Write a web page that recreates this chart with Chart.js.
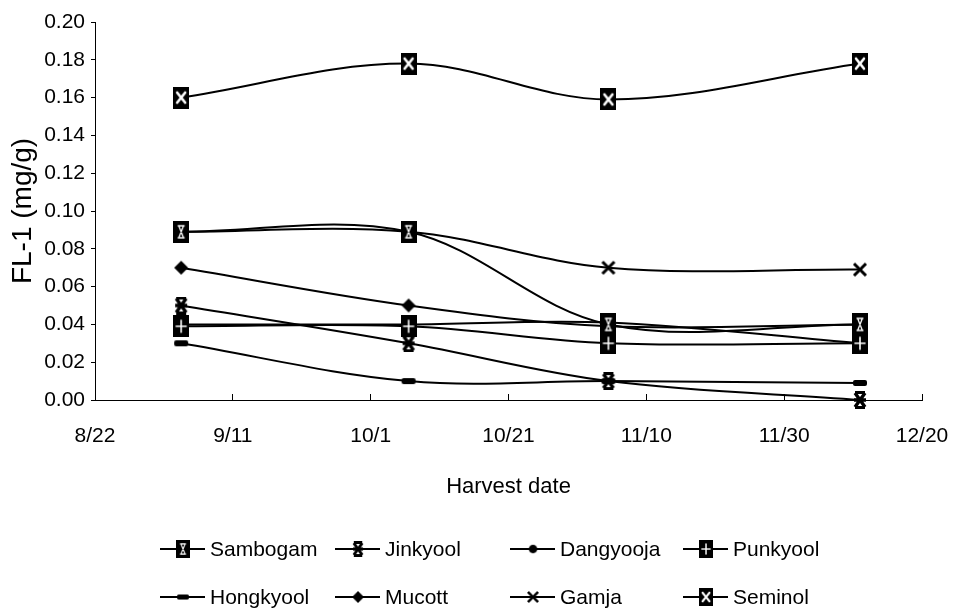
<!DOCTYPE html>
<html>
<head>
<meta charset="utf-8">
<script src="https://cdn.jsdelivr.net/npm/chart.js@4.4.1/dist/chart.umd.min.js"></script>
<style>
  html, body { margin: 0; padding: 0; background: #fff; }
  #chart { display: block; }
</style>
</head>
<body>
<canvas id="chart" width="959" height="616"></canvas>
<script>
// harvest dates as days counted from 8/22
const harvestDays = [12.5, 45.5, 74.5, 111];
const dateTicks = ['8/22', '9/11', '10/1', '10/21', '11/10', '11/30', '12/20'];

// FL-1 content (mg/g)
const sambogam  = [0.089, 0.089, 0.040, 0.040];
const jinkyool  = [0.050, 0.030, 0.010, 0.000];
const dangyooja = [0.040, 0.040, 0.041, 0.030];
const punkyool  = [0.039, 0.039, 0.030, 0.030];
const hongkyool = [0.030, 0.010, 0.010, 0.009];
const mucott    = [0.070, 0.050, 0.039, 0.040];
const gamja     = [0.089, 0.089, 0.070, 0.069];
const seminol   = [0.160, 0.178, 0.159, 0.178];

const legendCols = [160, 335, 510, 683];
const legendRows = [549, 597];

// marker images
function makeCanvas(w, h) {
    const c = document.createElement('canvas');
    c.width = w; c.height = h;
    return c;
}

function boxMarker(inner) {
    const c = makeCanvas(16, 22);
    const g = c.getContext('2d');
    g.fillStyle = '#000';
    g.fillRect(0, 0, 16, 22);
    g.strokeStyle = '#fff';
    g.lineCap = 'round';
    if (inner === 'x') {
        g.lineWidth = 2.6;
        g.beginPath();
        g.moveTo(4, 6); g.lineTo(12, 16);
        g.moveTo(12, 6); g.lineTo(4, 16);
        g.stroke();
    } else if (inner === 'plus') {
        g.lineWidth = 1.6;
        g.beginPath();
        g.moveTo(8, 5); g.lineTo(8, 17);
        g.moveTo(3, 11); g.lineTo(13, 11);
        g.stroke();
    } else {
        // hourglass
        g.lineWidth = 1.3;
        g.beginPath();
        g.moveTo(5, 5); g.lineTo(11, 5);
        g.moveTo(5, 17); g.lineTo(11, 17);
        g.moveTo(6, 6); g.lineTo(10, 16);
        g.moveTo(10, 6); g.lineTo(6, 16);
        g.stroke();
    }
    return c;
}

function starMarker() {
    const c = makeCanvas(16, 18);
    const g = c.getContext('2d');
    g.strokeStyle = '#000';
    g.fillStyle = '#000';
    g.lineWidth = 3.4;
    g.beginPath();
    g.moveTo(3, 2); g.lineTo(13, 16);
    g.moveTo(13, 2); g.lineTo(3, 16);
    g.moveTo(2, 9); g.lineTo(14, 9);
    g.stroke();
    g.fillRect(3, 0, 10, 3);
    g.fillRect(3, 15, 10, 3);
    return c;
}

function circleMarker() {
    const c = makeCanvas(12, 12);
    const g = c.getContext('2d');
    g.fillStyle = '#000';
    g.beginPath();
    g.arc(6, 6, 5, 0, Math.PI * 2);
    g.fill();
    return c;
}

function dashMarker() {
    const c = makeCanvas(16, 8);
    const g = c.getContext('2d');
    g.fillStyle = '#000';
    g.beginPath();
    g.roundRect(1, 1, 14, 6, 2);
    g.fill();
    return c;
}

function diamondMarker() {
    const c = makeCanvas(16, 16);
    const g = c.getContext('2d');
    g.fillStyle = '#000';
    g.beginPath();
    g.moveTo(8, 1); g.lineTo(15, 8); g.lineTo(8, 15); g.lineTo(1, 8);
    g.closePath();
    g.fill();
    return c;
}

function crossMarker() {
    const c = makeCanvas(16, 16);
    const g = c.getContext('2d');
    g.strokeStyle = '#000';
    g.lineWidth = 3;
    g.beginPath();
    g.moveTo(2, 2); g.lineTo(14, 14);
    g.moveTo(14, 2); g.lineTo(2, 14);
    g.stroke();
    return c;
}

function series(label, values, marker, order) {
    return {
        label: label,
        data: values.map((v, i) => ({ x: harvestDays[i], y: v })),
        borderColor: '#000',
        backgroundColor: '#000',
        borderWidth: 2,
        tension: 0.35,
        pointStyle: marker,
        pointRadius: 8,
        order: order,
        clip: false
    };
}

const gridLegend = {
    id: 'gridLegend',
    afterDraw(chart) {
        const ctx = chart.ctx;
        ctx.save();
        ctx.font = '21px "Liberation Sans", Arial, sans-serif';
        ctx.textBaseline = 'middle';
        chart.data.datasets.forEach((ds, i) => {
            const x = legendCols[i % 4];
            const y = legendRows[Math.floor(i / 4)];
            ctx.strokeStyle = '#000';
            ctx.lineWidth = 2;
            ctx.beginPath();
            ctx.moveTo(x, y);
            ctx.lineTo(x + 45, y);
            ctx.stroke();
            const img = ds.pointStyle;
            const w = img.width * 0.85, h = img.height * 0.85;
            ctx.drawImage(img, x + 23 - w / 2, y - h / 2, w, h);
            ctx.fillStyle = '#000';
            ctx.fillText(ds.label, x + 50, y + 1);
        });
        ctx.restore();
    }
};

Chart.defaults.font.family = '"Liberation Sans", Arial, sans-serif';
Chart.defaults.color = '#000';

new Chart(document.getElementById('chart').getContext('2d'), {
    type: 'line',
    data: {
        datasets: [
            series('Sambogam', sambogam, boxMarker('hourglass'), 2),
            series('Jinkyool', jinkyool, starMarker(), 5),
            series('Dangyooja', dangyooja, circleMarker(), 8),
            series('Punkyool', punkyool, boxMarker('plus'), 3),
            series('Hongkyool', hongkyool, dashMarker(), 6),
            series('Mucott', mucott, diamondMarker(), 4),
            series('Gamja', gamja, crossMarker(), 7),
            series('Seminol', seminol, boxMarker('x'), 1)
        ]
    },
    options: {
        responsive: false,
        animation: false,
        devicePixelRatio: 1,
        layout: { padding: { top: 22, right: 37, bottom: 116, left: 0 } },
        plugins: {
            legend: { display: false },
            tooltip: { enabled: false }
        },
        scales: {
            x: {
                type: 'linear',
                min: 0,
                max: 120,
                afterFit: (scale) => {
                    scale.height = 100;
                    scale.paddingLeft = 0;
                    scale.paddingRight = 0;
                },
                ticks: {
                    stepSize: 20,
                    padding: 30,
                    font: { size: 21 },
                    maxRotation: 0,
                    callback: (v) => dateTicks[Math.round(v / 20)]
                },
                grid: { drawOnChartArea: false, tickLength: -6, color: '#000' },
                border: { color: '#000', width: 1 },
                title: {
                    display: true,
                    text: 'Harvest date',
                    font: { size: 22 },
                    padding: { top: 0, bottom: 0 }
                }
            },
            y: {
                min: 0,
                max: 0.2,
                afterFit: (scale) => { scale.width = 95; },
                ticks: {
                    stepSize: 0.02,
                    padding: 6,
                    font: { size: 21 },
                    callback: (v) => v.toFixed(2)
                },
                grid: { drawOnChartArea: false, tickLength: 4, color: '#000' },
                border: { color: '#000', width: 1 },
                title: {
                    display: true,
                    text: 'FL-1 (mg/g)',
                    font: { size: 28 },
                    padding: { top: 6, bottom: 0 }
                }
            }
        }
    },
    plugins: [gridLegend]
});
</script>
</body>
</html>
